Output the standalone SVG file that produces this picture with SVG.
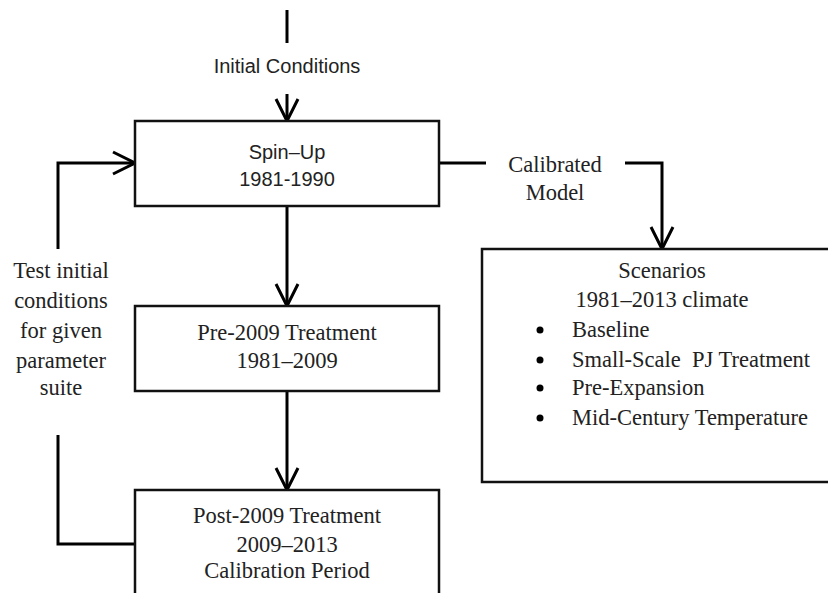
<svg xmlns="http://www.w3.org/2000/svg" width="828" height="593" viewBox="0 0 828 593">
<defs>
<style>
.box{fill:#fff;stroke:#111;stroke-width:2.5}
.ln{fill:none;stroke:#000;stroke-width:3}
.sans{font-family:"Liberation Sans","Noto Sans",sans-serif;font-size:20px;fill:#222;text-anchor:middle}
.serif{font-family:"Liberation Serif","Times New Roman",serif;font-size:22.5px;fill:#222;text-anchor:middle}
.left{text-anchor:start}
</style>
<marker id="arr" markerUnits="userSpaceOnUse" markerWidth="26" markerHeight="26" viewBox="0 0 26 26" refX="23" refY="13" orient="auto">
<path d="M1,2 L23,13 L1,24" fill="none" stroke="#000" stroke-width="3"/>
</marker>
</defs>
<rect width="828" height="593" fill="#fff"/>
<g id="connectors">
<line class="ln" x1="287" y1="10" x2="287" y2="43"/>
<line class="ln" x1="287" y1="94" x2="287" y2="121" marker-end="url(#arr)"/>
<line class="ln" x1="287" y1="206" x2="287" y2="306" marker-end="url(#arr)"/>
<line class="ln" x1="287" y1="391" x2="287" y2="490" marker-end="url(#arr)"/>
<line class="ln" x1="439" y1="163" x2="486" y2="163"/>
<polyline class="ln" points="625,163 662,163 662,249" marker-end="url(#arr)"/>
<polyline class="ln" points="135,544 58,544 58,435"/>
<polyline class="ln" points="58,249 58,163 135,163" marker-end="url(#arr)"/>
</g>
<g id="initial-conditions">
<text class="sans" x="287" y="73">Initial Conditions</text>
</g>
<g id="spin-up">
<rect class="box" x="135" y="121" width="304" height="85"/>
<text class="sans" x="287" y="159">Spin–Up</text>
<text class="sans" x="287" y="186">1981-1990</text>
</g>
<g id="calibrated-model">
<text class="serif" x="555" y="172">Calibrated</text>
<text class="serif" x="555" y="200">Model</text>
</g>
<g id="test-label">
<text class="serif" x="61" y="278">Test initial</text>
<text class="serif" x="61" y="308">conditions</text>
<text class="serif" x="61" y="338">for given</text>
<text class="serif" x="61" y="368">parameter</text>
<text class="serif" x="61" y="395">suite</text>
</g>
<g id="pre-2009">
<rect class="box" x="135" y="306" width="304" height="85"/>
<text class="serif" x="287" y="340">Pre-2009 Treatment</text>
<text class="serif" x="287" y="368">1981–2009</text>
</g>
<g id="post-2009">
<rect class="box" x="135" y="490" width="304" height="120"/>
<text class="serif" x="287" y="523">Post-2009 Treatment</text>
<text class="serif" x="287" y="552">2009–2013</text>
<text class="serif" x="287" y="578">Calibration Period</text>
</g>
<g id="scenarios">
<rect class="box" x="482" y="249" width="360" height="233"/>
<text class="serif" x="662" y="278">Scenarios</text>
<text class="serif" x="662" y="307">1981–2013 climate</text>
<circle cx="540" cy="330" r="3.5" fill="#000"/>
<circle cx="540" cy="360" r="3.5" fill="#000"/>
<circle cx="540" cy="388" r="3.5" fill="#000"/>
<circle cx="540" cy="418" r="3.5" fill="#000"/>
<text class="serif left" x="572" y="337">Baseline</text>
<text class="serif left" x="572" y="367" xml:space="preserve">Small-Scale  PJ Treatment</text>
<text class="serif left" x="572" y="395">Pre-Expansion</text>
<text class="serif left" x="572" y="425">Mid-Century Temperature</text>
</g>
</svg>
